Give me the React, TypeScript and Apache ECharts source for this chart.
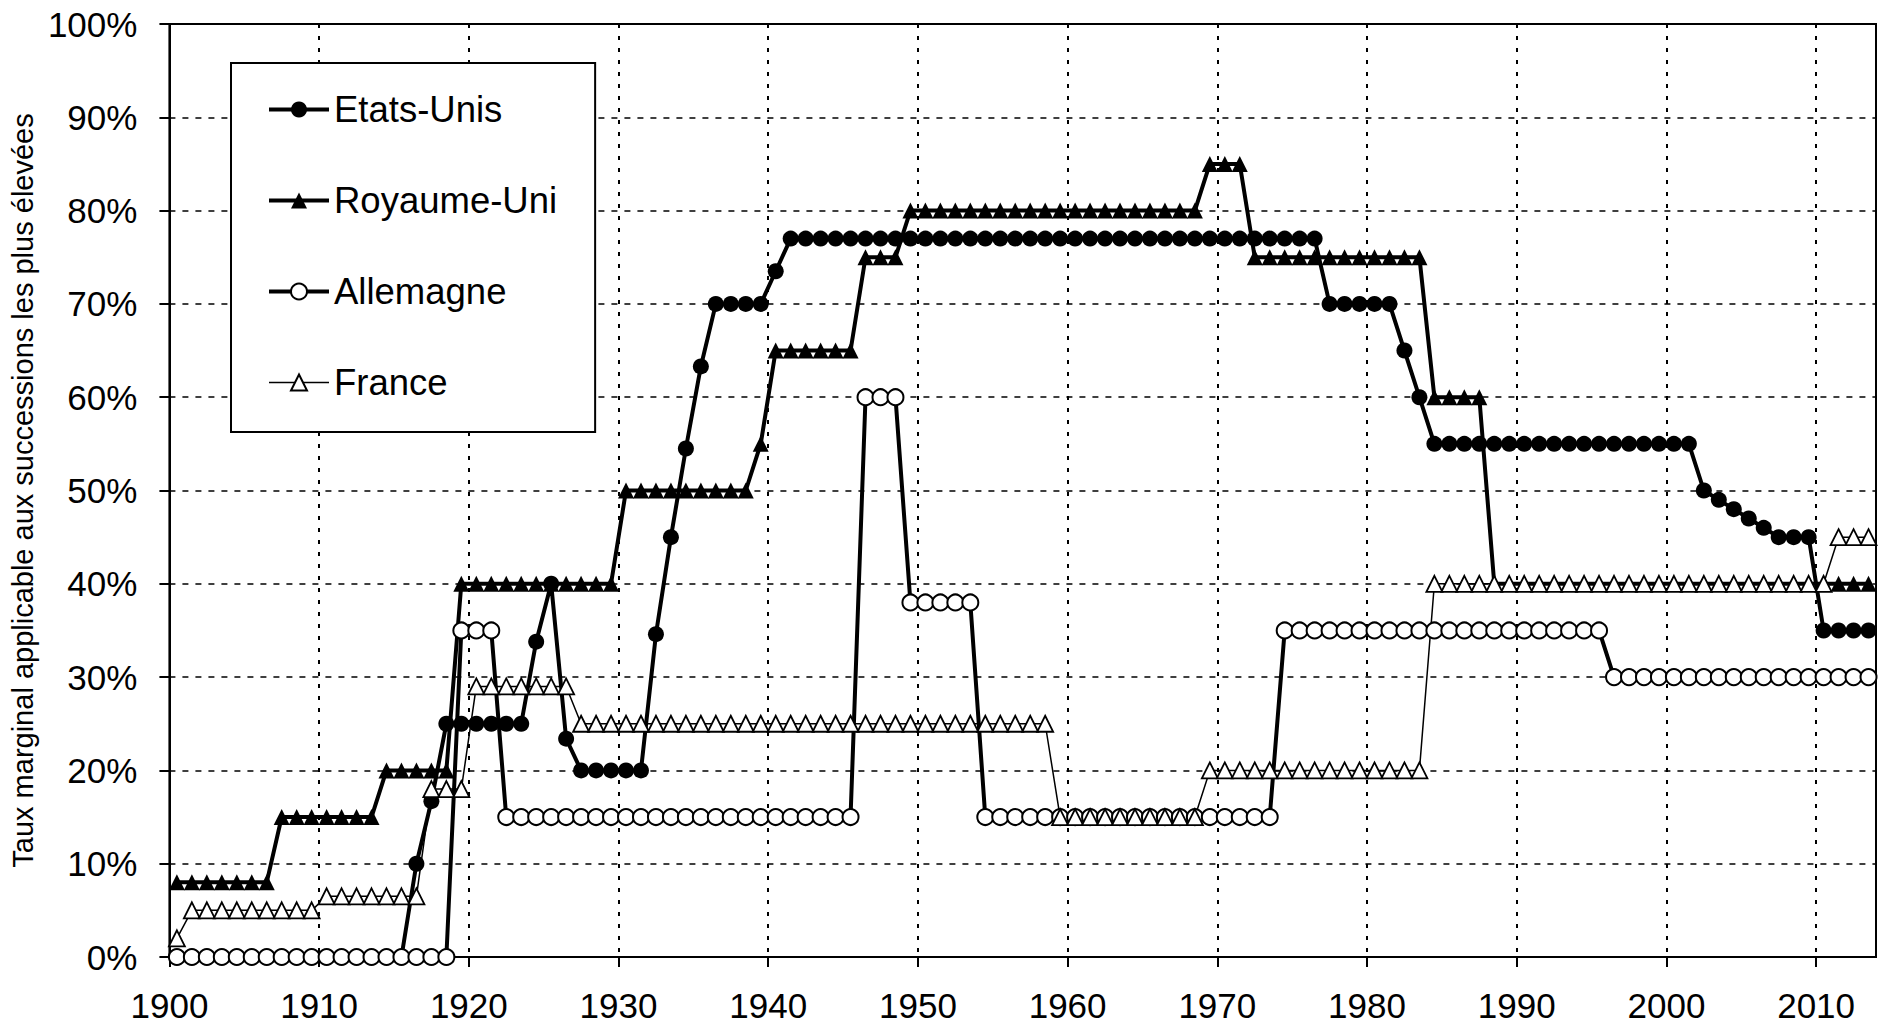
import React, { useEffect, useRef } from "react";
import * as echarts from "echarts";

const years: string[] = Array.from({ length: 114 }, (_, i) => String(1900 + i));
const xTickLabels = [1900, 1910, 1920, 1930, 1940, 1950, 1960, 1970, 1980, 1990, 2000, 2010];

const usValues = [
  0, 0, 0, 0, 0, 0, 0, 0, 0, 0,
  0, 0, 0, 0, 0, 0, 10, 16.7, 25, 25,
  25, 25, 25, 25, 33.8, 40, 23.4, 20, 20, 20,
  20, 20, 34.6, 45, 54.5, 63.3, 70, 70, 70, 70,
  73.5, 77, 77, 77, 77, 77, 77, 77, 77, 77,
  77, 77, 77, 77, 77, 77, 77, 77, 77, 77,
  77, 77, 77, 77, 77, 77, 77, 77, 77, 77,
  77, 77, 77, 77, 77, 77, 77, 70, 70, 70,
  70, 70, 65, 60, 55, 55, 55, 55, 55, 55,
  55, 55, 55, 55, 55, 55, 55, 55, 55, 55,
  55, 55, 50, 49, 48, 47, 46, 45, 45, 45,
  35, 35, 35, 35,
];

const ukValues = [
  8, 8, 8, 8, 8, 8, 8, 15, 15, 15,
  15, 15, 15, 15, 20, 20, 20, 20, 20, 40,
  40, 40, 40, 40, 40, 40, 40, 40, 40, 40,
  50, 50, 50, 50, 50, 50, 50, 50, 50, 55,
  65, 65, 65, 65, 65, 65, 75, 75, 75, 80,
  80, 80, 80, 80, 80, 80, 80, 80, 80, 80,
  80, 80, 80, 80, 80, 80, 80, 80, 80, 85,
  85, 85, 75, 75, 75, 75, 75, 75, 75, 75,
  75, 75, 75, 75, 60, 60, 60, 60, 40, 40,
  40, 40, 40, 40, 40, 40, 40, 40, 40, 40,
  40, 40, 40, 40, 40, 40, 40, 40, 40, 40,
  40, 40, 40, 40,
];

const deValues = [
  0, 0, 0, 0, 0, 0, 0, 0, 0, 0,
  0, 0, 0, 0, 0, 0, 0, 0, 0, 35,
  35, 35, 15, 15, 15, 15, 15, 15, 15, 15,
  15, 15, 15, 15, 15, 15, 15, 15, 15, 15,
  15, 15, 15, 15, 15, 15, 60, 60, 60, 38,
  38, 38, 38, 38, 15, 15, 15, 15, 15, 15,
  15, 15, 15, 15, 15, 15, 15, 15, 15, 15,
  15, 15, 15, 15, 35, 35, 35, 35, 35, 35,
  35, 35, 35, 35, 35, 35, 35, 35, 35, 35,
  35, 35, 35, 35, 35, 35, 30, 30, 30, 30,
  30, 30, 30, 30, 30, 30, 30, 30, 30, 30,
  30, 30, 30, 30,
];

const frValues = [
  2, 5, 5, 5, 5, 5, 5, 5, 5, 5,
  6.5, 6.5, 6.5, 6.5, 6.5, 6.5, 6.5, 18, 18, 18,
  29, 29, 29, 29, 29, 29, 29, 25, 25, 25,
  25, 25, 25, 25, 25, 25, 25, 25, 25, 25,
  25, 25, 25, 25, 25, 25, 25, 25, 25, 25,
  25, 25, 25, 25, 25, 25, 25, 25, 25, 15,
  15, 15, 15, 15, 15, 15, 15, 15, 15, 20,
  20, 20, 20, 20, 20, 20, 20, 20, 20, 20,
  20, 20, 20, 20, 40, 40, 40, 40, 40, 40,
  40, 40, 40, 40, 40, 40, 40, 40, 40, 40,
  40, 40, 40, 40, 40, 40, 40, 40, 40, 40,
  40, 45, 45, 45,
];

const seriesNames = ["Etats-Unis", "Royaume-Uni", "Allemagne", "France"];
const yAxisTitle = "Taux marginal applicable aux successions les plus élevées";

const FONT = "'Liberation Sans', Arial, sans-serif";

export default function App() {
  const ref = useRef<HTMLDivElement>(null);

  useEffect(() => {
    if (!ref.current) return;
    const chart = echarts.init(ref.current, undefined, { renderer: "svg" });

    const mk = (
      name: string,
      data: number[],
      symbol: string,
      fill: string,
      lineWidth: number,
      borderWidth: number
    ) => ({
      name,
      type: "line",
      xAxisIndex: 0,
      yAxisIndex: 0,
      data,
      symbol,
      symbolSize: 16,
      showAllSymbol: true,
      lineStyle: { color: "#000", width: lineWidth },
      itemStyle: { color: fill, borderColor: "#000", borderWidth },
      emphasis: { disabled: true },
      silent: true,
    });

    chart.setOption({
      animation: false,
      backgroundColor: "#fff",
      textStyle: { fontFamily: FONT, color: "#000" },
      grid: {
        left: 160,
        right: 5,
        top: 24,
        bottom: 72,
        show: true,
        borderColor: "#000",
        borderWidth: 2,
        containLabel: false,
      },
      legend: {
        orient: "vertical",
        left: 231,
        top: 63,
        padding: [28, 38, 31, 36],
        itemGap: 54,
        itemWidth: 60,
        itemHeight: 20,
        selectedMode: false,
        borderColor: "#000",
        borderWidth: 2,
        backgroundColor: "#fff",
        data: seriesNames,
        lineStyle: { width: "inherit" },
        textStyle: { fontSize: 36.5, fontFamily: FONT, color: "#000" },
      },
      xAxis: [
        {
          type: "category",
          data: years,
          boundaryGap: true,
          position: "top",
          show: false,
        },
        {
          type: "value",
          position: "bottom",
          min: 1900,
          max: 2014,
          interval: 10,
          axisLine: { show: true, lineStyle: { color: "#000", width: 2 } },
          axisTick: {
            show: true,
            length: 10,
            lineStyle: { color: "#000", width: 2 },
            customValues: xTickLabels,
          },
          axisLabel: {
            fontSize: 35,
            fontFamily: FONT,
            color: "#000",
            margin: 31,
            customValues: xTickLabels,
            formatter: (v: number) => String(v),
          },
          splitLine: {
            show: true,
            lineStyle: { color: "#000", width: 2, type: [4, 8] },
          },
        },
      ],
      yAxis: {
        type: "value",
        min: 0,
        max: 100,
        interval: 10,
        name: yAxisTitle,
        nameLocation: "middle",
        nameRotate: 90,
        nameGap: 118,
        nameTextStyle: { fontSize: 29, fontFamily: FONT, color: "#000" },
        axisLine: { show: true, lineStyle: { color: "#000", width: 2 } },
        axisTick: { show: true, length: 10, lineStyle: { color: "#000", width: 2 } },
        axisLabel: {
          fontSize: 35,
          fontFamily: FONT,
          color: "#000",
          margin: 32,
          formatter: "{value}%",
        },
        splitLine: {
          show: true,
          lineStyle: { color: "#000", width: 1.5, type: [6, 7] },
        },
      },
      series: [
        mk(seriesNames[0], usValues, "circle", "#000", 4, 0),
        mk(seriesNames[1], ukValues, "triangle", "#000", 4, 0),
        mk(seriesNames[2], deValues, "circle", "#fff", 4, 2),
        mk(seriesNames[3], frValues, "triangle", "#fff", 1.5, 1.8),
      ],
    });

    return () => chart.dispose();
  }, []);

  return (
    <div
      ref={ref}
      style={{ position: "absolute", left: 0, top: 0, width: 1881, height: 1029 }}
    />
  );
}
